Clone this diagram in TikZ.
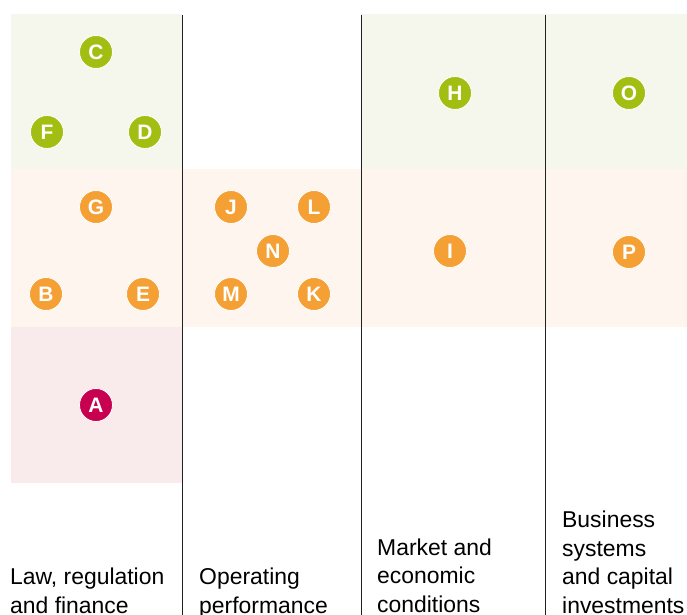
\documentclass[tikz,border=0pt]{standalone}
\usepackage{fontspec}
\setmainfont{Liberation Sans}
\definecolor{lime}{HTML}{A3BE12}
\definecolor{amber}{HTML}{F5A034}
\definecolor{crimson}{HTML}{C80050}
\definecolor{limebg}{HTML}{F6F7EC}
\definecolor{amberbg}{HTML}{FEF5EE}
\definecolor{crimsonbg}{HTML}{F9EAEC}
\definecolor{rule}{HTML}{222222}
\tikzset{
  badge/.style={circle, minimum size=33bp, inner sep=0pt, draw=white, line width=0.8bp,
    text=white, font=\fontsize{21}{21}\selectfont\bfseries},
  lowrisk/.style={badge, fill=lime},
  midrisk/.style={badge, fill=amber},
  highrisk/.style={badge, fill=crimson},
  divider/.style={draw=rule, line width=1bp},
  heading/.style={anchor=base west, align=left, inner sep=0pt,
    font=\fontsize{23}{28.5}\selectfont},
}
\begin{document}
\begin{tikzpicture}[x=1bp, y=-1bp]
\useasboundingbox (0,0) rectangle (687,615);
\fill[white] (0,0) rectangle (687,615);
% band backgrounds
\fill[limebg] (11,14) rectangle (182,169);
\fill[amberbg] (11,169) rectangle (182,327);
\fill[crimsonbg] (11,327) rectangle (182,483);
\fill[amberbg] (182,169) rectangle (361,327);
\fill[limebg] (361,14) rectangle (545,169);
\fill[amberbg] (361,169) rectangle (545,327);
\fill[limebg] (545,14) rectangle (687,169);
\fill[amberbg] (545,169) rectangle (687,327);
% column dividers
\coordinate (d1t) at (182,15); \coordinate (d1b) at (182,615);
\coordinate (d2t) at (361,15); \coordinate (d2b) at (361,615);
\coordinate (d3t) at (545,15); \coordinate (d3b) at (545,615);
\draw[divider] (d1t) -- (d1b);
\draw[divider] (d2t) -- (d2b);
\draw[divider] (d3t) -- (d3b);
% badges
\node[lowrisk] (C) at (96,52) {C};
\node[lowrisk] (F) at (47,132) {F};
\node[lowrisk] (D) at (145,132) {D};
\node[midrisk] (G) at (96,207) {G};
\node[midrisk] (B) at (46,294) {B};
\node[midrisk] (E) at (143,294) {E};
\node[highrisk] (A) at (96,405) {A};
\node[midrisk] (J) at (231,207) {J};
\node[midrisk] (L) at (314,207) {L};
\node[midrisk] (N) at (273,251) {N};
\node[midrisk] (M) at (231,294) {M};
\node[midrisk] (K) at (314,294) {K};
\node[lowrisk] (H) at (455,93) {H};
\node[midrisk] (I) at (450,251) {I};
\node[lowrisk] (O) at (629,93) {O};
\node[midrisk] (P) at (629,252) {P};
% column headings (anchored on the baseline of the last line)
\node[heading] (law) at (10,613) {Law, regulation\\and finance};
\node[heading] (ops) at (199,613) {Operating\\performance};
\node[heading] (mkt) at (377,612) {Market and\\economic\\conditions};
\node[heading] (biz) at (562,613) {Business\\systems\\and capital\\investments};
\end{tikzpicture}
\end{document}
